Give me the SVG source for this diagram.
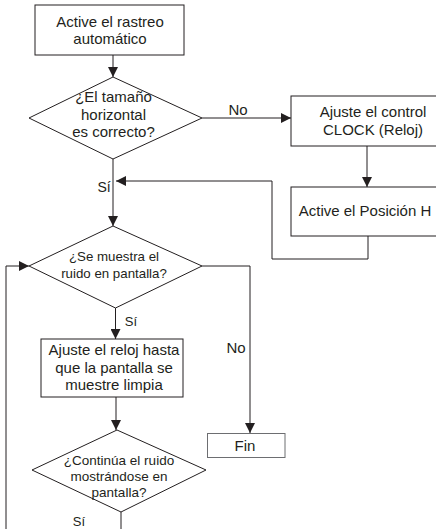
<svg xmlns="http://www.w3.org/2000/svg" width="436" height="529" viewBox="0 0 436 529">
<defs>
<style>
.n{fill:#fff;stroke:#231f20;stroke-width:1}
.t{font-family:"Liberation Sans",Arial,sans-serif;fill:#231f20;text-anchor:middle}
.c{fill:none;stroke:#231f20;stroke-width:1}
</style>
<marker id="ah" markerUnits="userSpaceOnUse" markerWidth="10" markerHeight="10" viewBox="0 0 10 10" refX="10" refY="5" orient="auto">
<path d="M0,0 L10,5 L0,10 z" fill="#231f20"/>
</marker>
</defs>
<rect width="436" height="529" fill="#fff"/>
<g id="connectors">
<path class="c" d="M113,55 V77" marker-end="url(#ah)"/>
<path class="c" d="M202,118 H291" marker-end="url(#ah)"/>
<path class="c" d="M367,146 V187" marker-end="url(#ah)"/>
<path class="c" d="M368,236 V259 H272 V181 H116" marker-end="url(#ah)"/>
<path class="c" d="M113,159 V226" marker-end="url(#ah)"/>
<path class="c" d="M202,266 H250 V433" marker-end="url(#ah)"/>
<path class="c" d="M115.5,308 V339" marker-end="url(#ah)"/>
<path class="c" d="M116,397 V430" marker-end="url(#ah)"/>
<path class="c" d="M121,512 V540 H6 V266 H29" marker-end="url(#ah)"/>
<text class="t" x="238" y="115" font-size="15">No</text>
<text class="t" x="104" y="192" font-size="14">Sí</text>
<text class="t" x="236" y="353" font-size="15">No</text>
<text class="t" x="131" y="326" font-size="13">Sí</text>
<text class="t" x="79" y="526" font-size="13">Sí</text>
</g>
<g id="n1">
<rect class="n" x="35" y="5" width="149" height="50"/>
<text class="t" x="110" y="26.5" font-size="15">Active el rastreo</text>
<text class="t" x="110" y="43.5" font-size="15">automático</text>
</g>
<g id="n2">
<polygon class="n" points="113,77 202,118 113,159 29,118"/>
<text class="t" x="113.5" y="102" font-size="15">¿El tamaño</text>
<text class="t" x="113.5" y="120" font-size="15">horizontal</text>
<text class="t" x="113.5" y="137" font-size="15">es correcto?</text>
</g>
<g id="n3">
<rect class="n" x="291" y="96" width="164" height="50"/>
<text class="t" x="373" y="116.5" font-size="15">Ajuste el control</text>
<text class="t" x="373" y="134.5" font-size="15">CLOCK (Reloj)</text>
</g>
<g id="n4">
<rect class="n" x="291" y="187" width="164" height="49"/>
<text class="t" x="365" y="216" font-size="15">Active el Posición H</text>
</g>
<g id="n5">
<polygon class="n" points="113,226 202,266 115.5,308 29,266"/>
<text class="t" x="114" y="261" font-size="13.3">¿Se muestra el</text>
<text class="t" x="114" y="278" font-size="13.3">ruido en pantalla?</text>
</g>
<g id="n6">
<rect class="n" x="41" y="339" width="142" height="58"/>
<text class="t" x="114" y="355" font-size="15">Ajuste el reloj hasta</text>
<text class="t" x="114" y="372.5" font-size="15">que la pantalla se</text>
<text class="t" x="114" y="390" font-size="15">muestre limpia</text>
</g>
<g id="n7">
<polygon class="n" points="117,430 206,470 121,512 32,470"/>
<text class="t" x="119" y="465" font-size="13.5">¿Continúa el ruido</text>
<text class="t" x="119" y="481" font-size="13.5">mostrándose en</text>
<text class="t" x="119" y="497" font-size="13.5">pantalla?</text>
</g>
<g id="n8">
<rect x="207.5" y="433.5" width="77.5" height="24" fill="#fff" stroke="#6d6e71" stroke-width="1"/>
<text class="t" x="245" y="450.5" font-size="15">Fin</text>
</g>
</svg>
